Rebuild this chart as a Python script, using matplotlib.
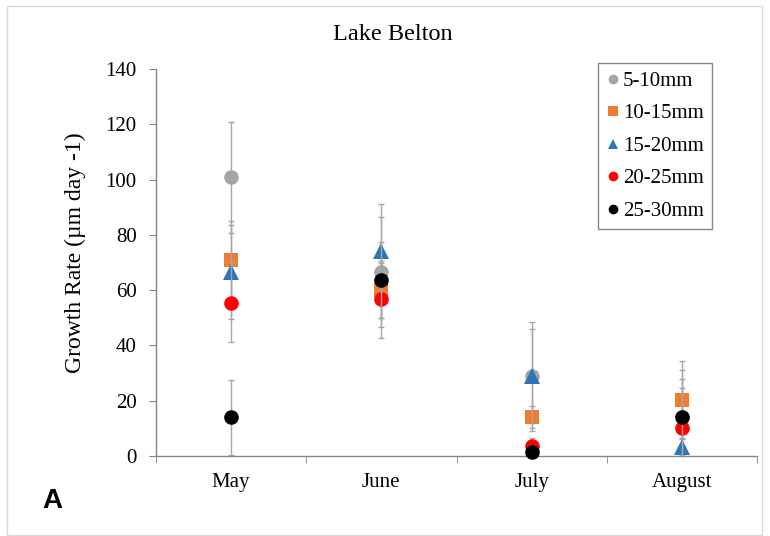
import numpy as np
import matplotlib
matplotlib.use("Agg")
import matplotlib.pyplot as plt
from matplotlib.lines import Line2D
from matplotlib.patches import Rectangle

# data
months = ["May", "June", "July", "August"]
sizes = ["5-10mm", "10-15mm", "15-20mm", "20-25mm", "25-30mm"]
rate_5_10 = [100.8, 66.5, 29.0, 14.0]
err_5_10 = [20.0, 20.0, 17.0, 10.5]
rate_10_15 = [70.9, 60.0, 14.2, 20.3]
err_10_15 = [14.2, 10.0, 4.0, 14.2]
rate_15_20 = [66.6, 74.0, 28.8, 3.4]
err_15_20 = [17.0, 17.0, 19.6, 3.0]
rate_20_25 = [55.5, 56.7, 3.5, 10.0]
err_20_25 = [14.4, 14.0, 3.0, 17.7]
rate_25_30 = [14.0, 63.7, 1.5, 14.0]
err_25_30 = [13.5, 13.6, 2.0, 17.0]

rates = [rate_5_10, rate_10_15, rate_15_20, rate_20_25, rate_25_30]
errs = [err_5_10, err_10_15, err_15_20, err_20_25, err_25_30]
colors = ["#a5a5a5", "#ed7d31", "#2e75b6", "#ff0000", "#000000"]
markers = ["o", "s", "^", "o", "o"]
msizes = [10.5, 9.5, 11.5, 10.5, 10.5]
legend_ms = [7, 6.5, 7.5, 7, 7]

plt.rcParams["font.family"] = ["Liberation Serif", "DejaVu Serif"]

W, H = 770, 536
fig = plt.figure(figsize=(W / 100, H / 100), dpi=100)
ax = fig.add_axes([156 / W, 1 - 456 / H, (757 - 156) / W, (456 - 69) / H])

x = np.arange(len(months))
for i in range(len(sizes)):
    ax.errorbar(x, rates[i], yerr=errs[i], fmt="none", ecolor="#a6a6a6",
                elinewidth=1, capsize=2.3, capthick=1, zorder=2 + 2 * i)
    ax.plot(x, rates[i], linestyle="none", marker=markers[i], ms=msizes[i],
            color=colors[i], markeredgewidth=0, clip_on=False, zorder=3 + 2 * i)

ax.set_xlim(-0.5, 3.5)
ax.set_ylim(0, 140)
ax.set_yticks(np.arange(0, 141, 20))
ax.set_xticks(x)
ax.set_xticklabels(months)
ax.set_xticks(np.arange(-0.5, 3.6, 1), minor=True)
ax.tick_params(axis="x", which="major", length=0, pad=12, labelsize=15)
ax.tick_params(axis="x", which="minor", length=5, direction="out", color="#868686")
ax.tick_params(axis="y", length=5, direction="out", color="#868686", labelsize=15, pad=9)

for side in ["top", "right"]:
    ax.spines[side].set_visible(False)
for side in ["left", "bottom"]:
    ax.spines[side].set_color("#868686")
    ax.spines[side].set_linewidth(1)

ax.set_ylabel("Growth Rate (\u00b5m day -1)", fontsize=17)
ax.yaxis.set_label_coords(-0.116, 0.525)

fig.text(393 / W, 1 - 35 / H, "Lake Belton", ha="center", va="center", fontsize=17.5)
fig.text(52 / W, 1 - 501 / H, "A", ha="center", va="center", fontsize=20,
         fontweight="bold", family=["Liberation Sans", "DejaVu Sans"])

handles = [Line2D([], [], linestyle="none", marker=markers[i], ms=legend_ms[i],
                  color=colors[i], markeredgewidth=0) for i in range(len(sizes))]
leg = ax.legend(handles, sizes, loc="upper left",
                bbox_to_anchor=(598 / W, 1 - 63 / H), bbox_transform=fig.transFigure,
                borderaxespad=0, fontsize=15, frameon=True, fancybox=False,
                edgecolor="#868686", framealpha=1, handlelength=0.6,
                handletextpad=0.2, labelspacing=0.62, borderpad=0.4)
leg.get_frame().set_linewidth(1)

# light frame around the whole chart area
fig.patches.append(Rectangle((7 / W, 1 / H), 755 / W, 529 / H, transform=fig.transFigure,
                             fill=False, edgecolor="#d9d9d9", linewidth=1))

fig.savefig("out.png", dpi=100)
